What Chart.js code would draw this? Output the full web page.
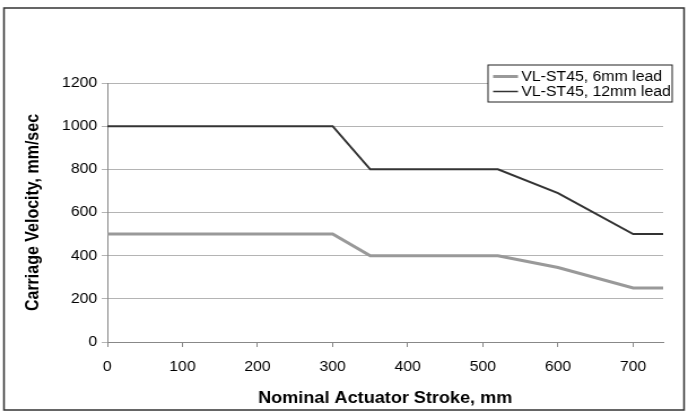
<!DOCTYPE html>
<html lang="en">
  <head>
    <meta charset="UTF-8" />
    <title>Carriage Velocity vs Stroke</title>
    <script src="https://cdn.jsdelivr.net/npm/chart.js"></script>
    <style>
      html, body { margin: 0; padding: 0; background: #fff; }
      #chart { display: block; }
    </style>
  </head>
  <body>
    <!-- drawn 609 wide and stretched to 688, like the source image -->
    <canvas id="chart" width="609" height="414" style="width: 688px; height: 414px"></canvas>

    <script>
      const strokes = [0, 50, 100, 150, 200, 250, 300, 350, 400, 450, 500, 520, 600, 700, 740];
      const lead6mm = [500, 500, 500, 500, 500, 500, 500, 400, 400, 400, 400, 400, 345, 250, 250];
      const lead12mm = [1000, 1000, 1000, 1000, 1000, 1000, 1000, 800, 800, 800, 800, 800, 690, 500, 500];
      const seriesNames = ["VL-ST45, 6mm lead", "VL-ST45, 12mm lead"];

      const toPoints = (ys) => strokes.map((x, i) => ({ x: x, y: ys[i] }));

      // outer frame + boxed legend
      const framePlugin = {
        id: "frame",
        afterDraw(chart) {
          const ctx = chart.ctx;
          ctx.save();
          ctx.strokeStyle = "#333";
          ctx.lineWidth = 1.5;
          ctx.strokeRect(3.5, 8, 602, 402);

          const bx = 432, by = 65, bw = 163, bh = 37;
          ctx.fillStyle = "#fff";
          ctx.fillRect(bx, by, bw, bh);
          ctx.lineWidth = 1;
          ctx.strokeStyle = "#222";
          ctx.strokeRect(bx, by, bw, bh);

          ctx.font = "14px 'Liberation Sans', Arial, sans-serif";
          ctx.textBaseline = "middle";
          chart.data.datasets.forEach((ds, i) => {
            const y = by + 11.5 + i * 15;
            ctx.strokeStyle = ds.borderColor;
            ctx.lineWidth = i === 0 ? 3 : 1.5;
            ctx.beginPath();
            ctx.moveTo(bx + 4.5, y);
            ctx.lineTo(bx + 26.5, y);
            ctx.stroke();
            ctx.fillStyle = "#000";
            ctx.fillText(ds.label, bx + 29.5, y + 0.5);
          });
          ctx.restore();
        },
      };

      new Chart(document.getElementById("chart"), {
        type: "line",
        data: {
          datasets: [
            {
              label: seriesNames[0],
              data: toPoints(lead6mm),
              borderColor: "#999999",
              borderWidth: 3,
              pointRadius: 0,
              tension: 0,
            },
            {
              label: seriesNames[1],
              data: toPoints(lead12mm),
              borderColor: "#333333",
              borderWidth: 2,
              pointRadius: 0,
              tension: 0,
            },
          ],
        },
        options: {
          responsive: false,
          maintainAspectRatio: false,
          animation: false,
          devicePixelRatio: 1,
          layout: { padding: { left: 0, right: 22, top: 83, bottom: 0 } },
          plugins: { legend: { display: false }, tooltip: { enabled: false } },
          scales: {
            x: {
              type: "linear",
              min: 0,
              max: 740,
              afterFit: (s) => { s.height = 72; },
              ticks: {
                stepSize: 100,
                includeBounds: false,
                padding: 12,
                color: "#000",
                font: { family: "'Liberation Sans', Arial", size: 14 },
              },
              grid: { drawOnChartArea: false, drawTicks: true, tickLength: 5, color: "#888" },
              border: { color: "#888", width: 1 },
              title: {
                display: true,
                text: "Nominal Actuator Stroke, mm",
                color: "#000",
                padding: { top: 0, bottom: 6 },
                font: { family: "'Liberation Sans', Arial", size: 16, weight: "bold" },
              },
            },
            y: {
              min: 0,
              max: 1200,
              afterFit: (s) => { s.width = 95; },
              ticks: {
                stepSize: 200,
                padding: 4,
                color: "#000",
                callback: (v) => String(v),
                font: { family: "'Liberation Sans', Arial", size: 14 },
              },
              grid: { color: "#b4b4b4", tickLength: 5 },
              border: { color: "#888", width: 1 },
              title: {
                display: true,
                text: "Carriage Velocity, mm/sec",
                color: "#000",
                padding: { top: 20, bottom: 0 },
                font: { family: "'Liberation Sans', Arial", size: 16, weight: "bold" },
              },
            },
          },
        },
        plugins: [framePlugin],
      });
    </script>
  </body>
</html>
